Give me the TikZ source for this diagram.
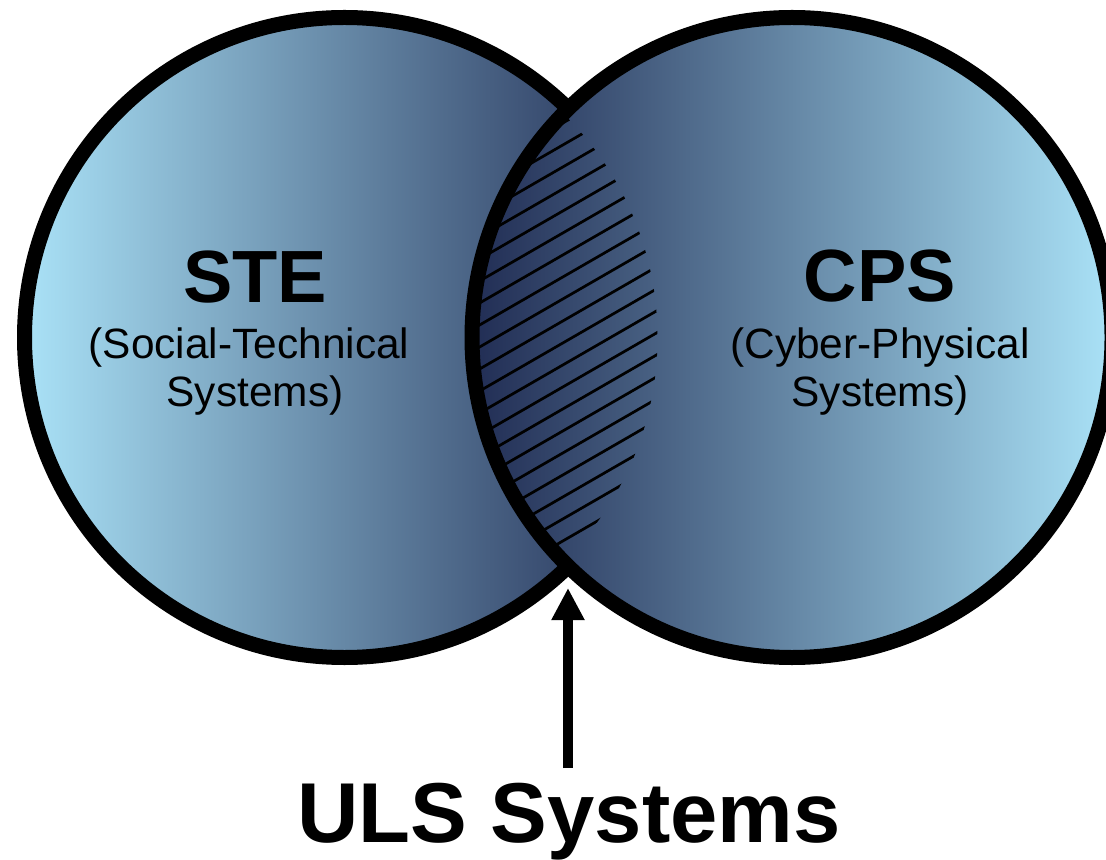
\documentclass[tikz,border=0pt]{standalone}
\usepackage{fontspec}
\setmainfont{Liberation Sans}
\usetikzlibrary{arrows.meta}
\definecolor{skyedge}{RGB}{170,226,247}
\definecolor{navycore}{RGB}{33,45,84}
\begin{document}
\begin{tikzpicture}[x=0.5pt,y=-0.5pt,
  ring/.style={line width=7.5pt},
  hatchline/.style={line width=1.35pt},
  bigtitle/.style={font=\bfseries\fontsize{37}{44}\selectfont, inner sep=0pt, anchor=base},
  subtitle/.style={font=\fontsize{21.2}{25}\selectfont, inner sep=0pt, anchor=base},
  ulstitle/.style={font=\bfseries\fontsize{42.5}{50}\selectfont, inner sep=0pt, anchor=base},
  pointer/.style={line width=5.4pt, -{Triangle[length=16pt,width=15.5pt]}}]
\useasboundingbox (0,0) rectangle (1106,860);
\begin{scope}
  \clip (0,0) rectangle (1106,860);
  % left circle (STE)
  \shade[left color=skyedge, right color=navycore] (344.5,337.5) circle[radius=320];
  \draw[ring] (344.5,337.5) circle[radius=320];
  % right circle (CPS)
  \shade[left color=navycore, right color=skyedge] (792,337.5) circle[radius=320];
  % hatched intersection
  \begin{scope}
    \clip (344.5,337.5) circle[radius=313];
    \clip (792,337.5) circle[radius=320];
    \foreach \k in {-14,...,14}
      \draw[hatchline] (368,{384+22*\k+0.577*200}) -- (768,{384+22*\k-0.577*200});
  \end{scope}
  \draw[ring] (792,337.5) circle[radius=320];
\end{scope}
% labels
\node[bigtitle] (ste) at (255,303) {STE};
\node[subtitle] (stea) at (249,358) {(Social-Technical};
\node[subtitle] (steb) at (255,407) {Systems)};
\node[bigtitle] (cps) at (880,302) {CPS};
\node[subtitle] (cpsa) at (880,358) {(Cyber-Physical};
\node[subtitle] (cpsb) at (880,407) {Systems)};
\node[ulstitle] (uls) at (569,842) {ULS Systems};
% arrow
\coordinate (tail) at (568,768);
\coordinate (tip) at (568,588);
\draw[pointer] (tail) -- (tip);
\end{tikzpicture}
\end{document}
